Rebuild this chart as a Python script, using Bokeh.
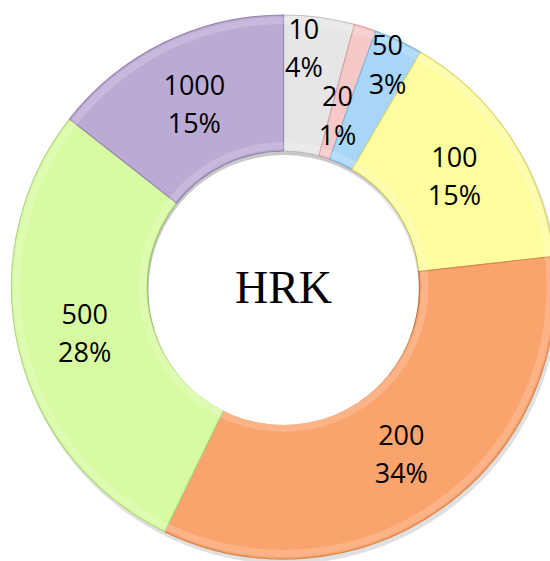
import numpy as np
from bokeh.plotting import figure
from bokeh.models import Range1d, ColumnDataSource
from bokeh.core.properties import value
from bokeh.embed import file_html
from bokeh.resources import INLINE

# ---- data ----
denoms = ["10", "20", "50", "100", "200", "500", "1000"]
shares = [4.2, 1.3, 2.9, 14.8, 34.0, 28.4, 14.4]
pct_labels = ["4%", "1%", "3%", "15%", "34%", "28%", "15%"]
colors = ["#E6E6E6", "#F7C8C8", "#A9D6F8", "#FDFD9E", "#FBA36D", "#D7FBA1", "#BBAAD3"]
edge_colors = ["#C4C4C4", "#D9A3A3", "#86B6DD", "#D6D67A", "#D9864F", "#B2D686", "#9A88B3"]
label_radius = [240, 180, 246, 204, 204, 204, 204]
label_turn_deg = [2.7, 0, 0, 0, 0, 0, 0]   # counter-clockwise nudge of a label
center_text = "HRK"

# ---- geometry (pixels) ----
W, H = 550, 561
CX, CY = 283, 286.5          # donut centre in page coordinates
R_IN, R_OUT = 136, 272

total = float(sum(shares))
cum = np.concatenate([[0.0], np.cumsum(shares)]) / total
start = np.pi / 2 - 2 * np.pi * cum[:-1]
end = np.pi / 2 - 2 * np.pi * cum[1:]
mid = (start + end) / 2 + np.radians(label_turn_deg)
lx = np.array(label_radius) * np.cos(mid)
ly = np.array(label_radius) * np.sin(mid)

src = ColumnDataSource(dict(start=start, end=end, color=colors, edge=edge_colors,
                            lx=lx, ly=ly, d=denoms, pct=pct_labels))

p = figure(width=W, height=H,
           x_range=Range1d(-CX, W - CX),
           y_range=Range1d(CY - H, CY),
           output_backend="svg", toolbar_location=None, min_border=0)
p.xaxis.visible = False
p.yaxis.visible = False
p.grid.visible = False
p.outline_line_color = None
p.background_fill_color = "white"
p.border_fill_color = "white"

# soft shadow
p.annulus(x=2, y=-4, inner_radius=R_IN, outer_radius=R_OUT + 1,
          fill_color="#000000", fill_alpha=0.12, line_color=None)

p.annular_wedge(x=0, y=0, inner_radius=R_IN, outer_radius=R_OUT,
                start_angle="start", end_angle="end", direction="clock",
                fill_color="color", line_color="edge", line_width=1.2, source=src)

# soft bevel highlights
p.annulus(x=0, y=0, inner_radius=R_OUT - 9, outer_radius=R_OUT - 2,
          fill_color="#FFFFFF", fill_alpha=0.18, line_color=None)
p.annulus(x=0, y=0, inner_radius=R_IN + 2, outer_radius=R_IN + 9,
          fill_color="#FFFFFF", fill_alpha=0.18, line_color=None)
p.circle(x=0, y=-1, radius=R_IN + 1, fill_color="#000000", fill_alpha=0.10, line_color=None)
p.circle(x=0, y=-3, radius=R_IN - 1, fill_color="white", line_color=None)

p.text(x="lx", y="ly", text="d", source=src, y_offset=-19,
       text_font=value("Open Sans"), text_font_size="27px", text_color="#000000",
       text_align="center", text_baseline="middle")
p.text(x="lx", y="ly", text="pct", source=src, y_offset=19,
       text_font=value("Open Sans"), text_font_size="27px", text_color="#000000",
       text_align="center", text_baseline="middle")

p.text(x=[0], y=[0], text=[center_text], text_font=value("Liberation Serif"),
       text_font_size="46px", text_color="#000000",
       text_align="center", text_baseline="middle")

open("out.html", "w").write(file_html(p, INLINE))
